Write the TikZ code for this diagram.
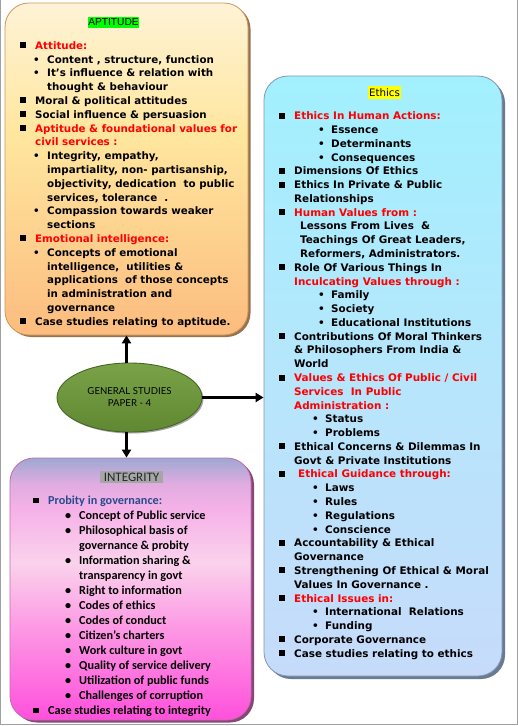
\documentclass[tikz,border=0pt]{standalone}
\usepackage{fontspec}
\setmainfont{DejaVu Sans}
\newfontfamily\cfont{Carlito}
\newfontfamily\afont{Liberation Sans}
\newfontfamily\gfont{Lato}
\usetikzlibrary{shapes.geometric,arrows.meta,shadows}
\definecolor{aptEdge}{RGB}{205,150,90}
\definecolor{aptShadow}{RGB}{150,115,80}
\definecolor{ethEdge}{RGB}{130,150,178}
\definecolor{ethShadow}{RGB}{105,122,145}
\definecolor{intEdge}{RGB}{190,110,170}
\definecolor{intShadow}{RGB}{135,70,120}
\definecolor{gsTop}{RGB}{122,162,72}
\definecolor{gsBot}{RGB}{96,136,50}
\definecolor{gsEdge}{RGB}{70,102,38}
\definecolor{probity}{RGB}{40,75,140}
\definecolor{hlgreen}{RGB}{0,255,0}
\definecolor{hlyellow}{RGB}{255,255,0}
\definecolor{hlgray}{RGB}{166,166,166}
\definecolor{framegray}{RGB}{160,160,160}
% shading stop colours
\definecolor{apA}{RGB}{252,188,126}
\definecolor{apB}{RGB}{253,205,140}
\definecolor{apC}{RGB}{255,230,158}
\definecolor{apD}{RGB}{254,243,214}
\definecolor{etA}{RGB}{198,219,250}
\definecolor{etB}{RGB}{182,230,252}
\definecolor{etC}{RGB}{162,240,254}
\definecolor{inA}{RGB}{255,80,220}
\definecolor{inB}{RGB}{253,150,228}
\definecolor{inC}{RGB}{250,210,236}
\definecolor{inD}{RGB}{246,178,232}
\definecolor{inE}{RGB}{225,172,225}
\definecolor{inF}{RGB}{158,168,210}
% vertical shadings (path box maps to 25bp..75bp)
\pgfdeclareverticalshading{aptshade}{100bp}{%
  color(0bp)=(apA); color(25bp)=(apA); color(37bp)=(apB);
  color(55bp)=(apC); color(75bp)=(apD); color(100bp)=(apD)}
\pgfdeclareverticalshading{ethshade}{100bp}{%
  color(0bp)=(etA); color(25bp)=(etA); color(50bp)=(etB);
  color(75bp)=(etC); color(100bp)=(etC)}
\pgfdeclareverticalshading{intshade}{100bp}{%
  color(0bp)=(inA); color(25bp)=(inA); color(42bp)=(inB);
  color(55bp)=(inC); color(65bp)=(inD); color(70bp)=(inE);
  color(75bp)=(inF); color(100bp)=(inF)}
% bullets
\newcommand\apsq{\makebox[15pt][l]{\raisebox{1pt}{\rule{6pt}{6pt}}}}
\newcommand\apsc{\hspace*{15pt}}
\newcommand\apsb{\hspace*{13pt}\makebox[14pt][l]{\textbullet}}
\newcommand\apsd{\hspace*{27pt}}
\newcommand\etsq{\makebox[15pt][l]{\raisebox{1pt}{\rule{6pt}{6pt}}}}
\newcommand\etsc{\hspace*{15pt}}
\newcommand\etea{\hspace*{39pt}\makebox[13pt][l]{\textbullet}}
\newcommand\eteb{\hspace*{33pt}\makebox[13pt][l]{\textbullet}}
\newcommand\insq{\makebox[15pt][l]{\raisebox{1pt}{\rule{5.5pt}{5.5pt}}}}
\newcommand\inib{\hspace*{32pt}\makebox[14pt][l]{\textbullet}}
\newcommand\inic{\hspace*{46pt}}
\begin{document}
\begin{tikzpicture}[x=1pt,y=-1pt,
  panel/.style={rectangle, rounded corners=24pt, inner sep=0pt, line width=0.8pt},
  listtext/.style={anchor=north west, inner sep=0pt, align=left},
  hl/.style={inner sep=0pt, text=black},
  arr/.style={line width=2.6pt, -{Triangle[length=8pt,width=9pt]}}]
\useasboundingbox (0,0) rectangle (518,726);
% frame
\draw[framegray, line width=1pt] (0.5,0) -- (0.5,724.5) -- (517.5,724.5) -- (517.5,0);

% APTITUDE panel
\node[panel, minimum width=243pt, minimum height=332pt, draw=aptEdge, shading=aptshade,
  drop shadow={shadow xshift=2.5pt, shadow yshift=-2pt, fill=aptShadow, opacity=1}]
  (apt) at (126.5,169) {};
\node[hl, fill=hlgreen, minimum width=51pt, minimum height=11.5pt, font=\afont\fontsize{10.2}{12}\selectfont]
  (apttitle) at (113.5,22.5) {APTITUDE};
\node[listtext, font=\bfseries\fontsize{10.3}{13.8}\selectfont] (apttext) at (20,39) {%
\rule{0pt}{10pt}\apsq{\color{red}Attitude:}\\
\apsb Content , structure, function\\
\apsb It’s influence \& relation with\\
\apsd thought \& behaviour\\
\apsq Moral \& political attitudes\\
\apsq Social influence \& persuasion\\
\apsq{\color{red}Aptitude \& foundational values for}\\
\apsc{\color{red}civil services :}\\
\apsb Integrity, empathy,\\
\apsd impartiality, non- partisanship,\\
\apsd objectivity, dedication\ \ to public\\
\apsd services, tolerance\ \ .\\
\apsb Compassion towards weaker\\
\apsd sections\\
\apsq{\color{red}Emotional intelligence:}\\
\apsb Concepts of emotional\\
\apsd intelligence,\ \ utilities \&\\
\apsd applications\ \ of those concepts\\
\apsd in administration and\\
\apsd governance\\
\apsq Case studies relating to aptitude.};

% ETHICS panel
\node[panel, minimum width=238pt, minimum height=600pt, draw=ethEdge, shading=ethshade,
  drop shadow={shadow xshift=3pt, shadow yshift=-3pt, fill=ethShadow, opacity=1}]
  (eth) at (383,376) {};
\node[hl, fill=hlyellow, minimum width=33pt, minimum height=13pt, font=\fontsize{10.3}{12}\selectfont]
  (ethtitle) at (384.5,92.5) {Ethics};
\node[listtext, font=\bfseries\fontsize{10.4}{13.78}\selectfont] (ethtext) at (279,109.5) {%
\rule{0pt}{10pt}\etsq{\color{red}Ethics In Human Actions:}\\
\etea Essence\\
\etea Determinants\\
\etea Consequences\\
\etsq Dimensions Of Ethics\\
\etsq Ethics In Private \& Public\\
\etsc Relationships\\
\etsq{\color{red}Human Values from :}\\
\hspace*{21pt}Lessons From Lives\ \ \&\\
\hspace*{21pt}Teachings Of Great Leaders,\\
\hspace*{21pt}Reformers, Administrators.\\
\etsq Role Of Various Things In\\
\etsc{\color{red}Inculcating Values through :}\\
\etea Family\\
\etea Society\\
\etea Educational Institutions\\
\etsq Contributions Of Moral Thinkers\\
\etsc\& Philosophers From India \&\\
\etsc World\\
\etsq{\color{red}Values \& Ethics Of Public / Civil}\\
\etsc{\color{red}Services\ \ In Public}\\
\etsc{\color{red}Administration :}\\
\eteb Status\\
\eteb Problems\\
\etsq Ethical Concerns \& Dilemmas In\\
\etsc Govt \& Private Institutions\\
\etsq\hspace*{4pt}{\color{red}Ethical Guidance through:}\\
\eteb Laws\\
\eteb Rules\\
\eteb Regulations\\
\eteb Conscience\\
\etsq Accountability \& Ethical\\
\etsc Governance\\
\etsq Strengthening Of Ethical \& Moral\\
\etsc Values In Governance .\\
\etsq{\color{red}Ethical Issues in:}\\
\eteb International\ \ Relations\\
\eteb Funding\\
\etsq Corporate Governance\\
\etsq Case studies relating to ethics};

% INTEGRITY panel
\node[panel, minimum width=241pt, minimum height=262pt, draw=intEdge, shading=intshade,
  drop shadow={shadow xshift=3pt, shadow yshift=-2.5pt, fill=intShadow, opacity=1}]
  (int) at (130.5,589) {};
\node[hl, fill=hlgray, minimum width=63pt, minimum height=12.5pt, text=black!85,
  font=\cfont\fontsize{13}{13}\selectfont]
  (inttitle) at (131.5,477) {INTEGRITY};
\node[listtext, font=\cfont\bfseries\fontsize{12.2}{15}\selectfont] (inttext) at (33,494) {%
\rule{0pt}{10pt}\insq{\color{probity}Probity in governance:}\\
\inib Concept of Public service\\
\inib Philosophical basis of\\
\inic governance \& probity\\
\inib Information sharing \&\\
\inic transparency in govt\\
\inib Right to information\\
\inib Codes of ethics\\
\inib Codes of conduct\\
\inib Citizen’s charters\\
\inib Work culture in govt\\
\inib Quality of service delivery\\
\inib Utilization of public funds\\
\inib Challenges of corruption\\
\insq Case studies relating to integrity};

% central ellipse
\node[ellipse, minimum width=145pt, minimum height=69pt, inner sep=0pt, draw=gsEdge, line width=0.9pt,
  top color=gsTop, bottom color=gsBot, align=center, text=black,
  font=\gfont\fontsize{9.6}{12}\selectfont,
  drop shadow={shadow xshift=1.5pt, shadow yshift=-1.5pt, fill=black!35, opacity=1}]
  (gs) at (129.5,397.5) {GENERAL STUDIES\\PAPER - 4};

% connectors
\coordinate (up) at (gs.north -| apt.south);
\coordinate (dn) at (gs.south -| apt.south);
\draw[arr] (up) -- (apt.south);
\draw[arr] (gs.east) -- (gs.east -| eth.west);
\draw[arr] (dn) -- (dn |- int.north);
\end{tikzpicture}
\end{document}
